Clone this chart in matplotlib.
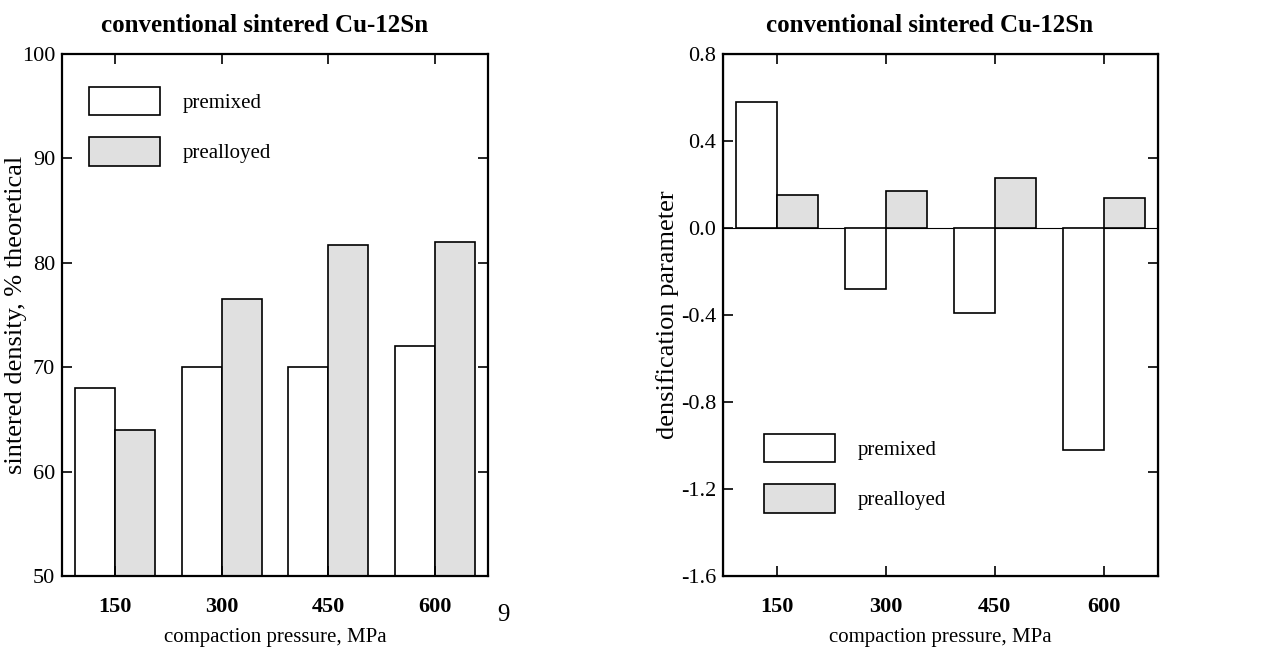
import matplotlib
matplotlib.use('Agg')
import matplotlib.pyplot as plt
import numpy as np

# du lieu doc tu hinh
pressure = ['150', '300', '450', '600']
density_premixed = [68, 70, 70, 72]
density_prealloyed = [64, 76.5, 81.7, 82]
densif_premixed = [0.58, -0.28, -0.39, -1.02]
densif_prealloyed = [0.15, 0.17, 0.23, 0.14]

plt.rcParams['font.family'] = ['Liberation Serif', 'DejaVu Serif']
plt.rcParams['axes.unicode_minus'] = False

grey = '#e0e0e0'
w = 0.376
x = np.arange(len(pressure))

fig = plt.figure(figsize=(12.68, 6.48), dpi=100)
ax1 = fig.add_axes([62 / 1268, 72 / 648, 426 / 1268, 522 / 648])
ax2 = fig.add_axes([723 / 1268, 72 / 648, 435 / 1268, 522 / 648])


def style(ax):
    ax.set_xlim(-0.5, 3.5)
    ax.set_xticks(x)
    ax.set_xticklabels(pressure, fontweight='bold')
    ax.tick_params(axis='x', direction='in', length=7, width=1.2,
                   top=True, labelsize=16, pad=15)
    ax.tick_params(axis='y', direction='in', length=7, width=1.2,
                   labelsize=16, pad=5)
    for s in ax.spines.values():
        s.set_linewidth(1.6)
    ax.set_xlabel('compaction pressure, MPa', fontsize=15, labelpad=8)
    ax.set_title('conventional sintered Cu-12Sn', fontsize=18,
                 fontweight='bold', pad=16, x=0.476)


def legend(ax, top):
    ax.legend(loc='upper left', bbox_to_anchor=top, frameon=False,
              fontsize=15, handlelength=3.4, handleheight=1.72,
              labelspacing=1.05, handletextpad=1.1, borderpad=0,
              borderaxespad=0)


# bieu do trai: mat do sau thieu ket
ax1.bar(x, density_premixed, width=-w, align='edge',
        color='white', edgecolor='black', linewidth=1.2, label='premixed')
ax1.bar(x, density_prealloyed, width=w, align='edge',
        color=grey, edgecolor='black', linewidth=1.2, label='prealloyed')
ax1.set_ylim(50, 100)
ax1.set_yticks(np.arange(50, 101, 10))
ax1.tick_params(axis='y', right=True)
style(ax1)
ax1.set_ylabel('sintered density, % theoretical', fontsize=19)
ax1.yaxis.set_label_coords(-0.081, 0.5)
legend(ax1, (0.063, 0.937))

# bieu do phai: thong so
ax2.bar(x, densif_premixed, width=-w, align='edge',
        color='white', edgecolor='black', linewidth=1.2, label='premixed')
ax2.bar(x, densif_prealloyed, width=w, align='edge',
        color=grey, edgecolor='black', linewidth=1.2, label='prealloyed')
ax2.axhline(0, color='black', linewidth=0.8, zorder=0.5)
ax2.set_ylim(-1.6, 0.8)
yt = np.round(np.arange(-1.6, 0.81, 0.4), 1) + 0.0
ax2.set_yticks(yt)
ax2.set_yticklabels(['%.1f' % v for v in yt])
style(ax2)
ax2.set_ylabel('densification parameter', fontsize=19)
ax2.yaxis.set_label_coords(-0.101, 0.5)
legend(ax2, (0.094, 0.272))
# truc phai co vach chia khac
tw = ax2.twinx()
tw.set_ylim(0, 5)
tw.set_yticks([1, 2, 3, 4])
tw.set_yticklabels([])
tw.tick_params(axis='y', direction='in', length=7, width=1.2)

fig.text(503 / 1268, 1 - 615 / 648, '9', fontsize=18, ha='center', va='center')

plt.savefig('out.png', dpi=100)
